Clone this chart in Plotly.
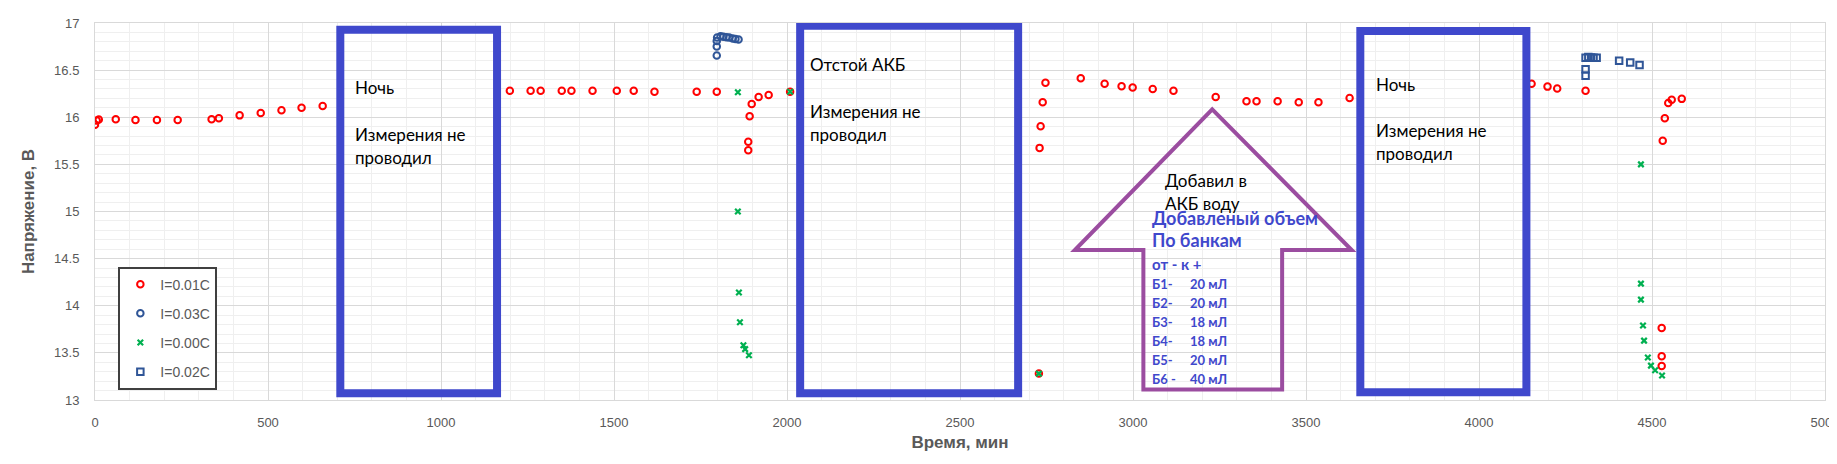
import plotly.graph_objects as go

# I=0.01C
time_001 = [0, 5, 11, 60, 117, 179, 239, 337, 358, 418, 479, 539, 597, 658,
            1199, 1259, 1288, 1349, 1377, 1438, 1508, 1557, 1617, 1739, 1797,
            1888, 1888, 1892, 1898, 1918, 1947, 2009,
            2728, 2730, 2733, 2739, 2747, 2849, 2918, 2967, 2999, 3057, 3117,
            3239, 3328, 3357, 3418, 3479, 3536, 3626,
            4152, 4198, 4226, 4308, 4528, 4528, 4528, 4531, 4537, 4547, 4557, 4586]
volt_001 = [15.92, 15.965, 15.975, 15.98, 15.97, 15.97, 15.97, 15.98, 15.99, 16.02, 16.045, 16.075, 16.10, 16.12,
            16.28, 16.28, 16.28, 16.28, 16.28, 16.28, 16.28, 16.28, 16.27, 16.27, 16.27,
            15.65, 15.74, 16.01, 16.14, 16.215, 16.235, 16.27,
            13.28, 15.675, 15.905, 16.16, 16.365, 16.415, 16.355, 16.33, 16.315, 16.30, 16.28,
            16.215, 16.17, 16.17, 16.17, 16.16, 16.16, 16.205,
            16.355, 16.325, 16.305, 16.28, 13.36, 13.465, 13.765, 15.75, 15.99, 16.15, 16.185, 16.195]

# I=0.03C
time_003 = [1797, 1797, 1797, 1798, 1808, 1816, 1825, 1833, 1843, 1851, 1860]
volt_003 = [16.655, 16.75, 16.81, 16.845, 16.86, 16.855, 16.85, 16.845, 16.835, 16.83, 16.825]

# I=0.00C
time_000 = [1858, 1858, 1861, 1864, 1874, 1879, 1890, 2009, 2728,
            4468, 4468, 4468, 4474, 4477, 4488, 4497, 4509, 4529]
volt_000 = [16.265, 15.0, 14.14, 13.825, 13.58, 13.54, 13.475, 16.27, 13.28,
            15.5, 14.235, 14.065, 13.79, 13.63, 13.45, 13.365, 13.315, 13.26]

# I=0.02C
time_002 = [4308, 4308, 4308, 4316, 4324, 4331, 4340, 4405, 4437, 4464]
volt_002 = [16.44, 16.51, 16.63, 16.64, 16.635, 16.63, 16.63, 16.60, 16.58, 16.555]

series_names = ["I=0.01C", "I=0.03C", "I=0.00C", "I=0.02C"]

note_night = ["Ночь", "", "Измерения не", "проводил"]
note_settle = ["Отстой АКБ", "", "Измерения не", "проводил"]
note_water = ["Добавил в", "АКБ воду"]
note_volume = ["Добавленый объем", "По банкам", "от - к +"]
cell_names = ["Б1-", "Б2-", "Б3-", "Б4-", "Б5-", "Б6 -"]
cell_volumes = ["20 мЛ", "20 мЛ", "18 мЛ", "18 мЛ", "20 мЛ", "40 мЛ"]

BOX_BLUE = "#3F48CC"
ARROW_PURPLE = "#9B4DA0"
TEXT_FONT = "Lato, Noto Sans, sans-serif"


# add_text(fig, x, y, text, size, color, bold)
#   puts one line of text on the chart, left aligned, in data coordinates.
def add_text(fig, x, y, text, size=17, color="black", bold=False):
    if bold:
        text = f"<b>{text}</b>"
    fig.add_annotation(x=x, y=y, xref="x", yref="y", text=text, showarrow=False,
                       xanchor="left", yanchor="middle",
                       font={"family": TEXT_FONT, "size": size, "color": color})


# add_lines(fig, x, y_list, lines)
#   writes several lines under each other.
def add_lines(fig, x, y_list, lines, size=17, color="black", bold=False):
    for y, line in zip(y_list, lines):
        if line:
            add_text(fig, x, y, line, size, color, bold)


fig = go.Figure()

fig.add_trace(go.Scatter(x=time_001, y=volt_001, mode="markers", name=series_names[0],
                         legendgroup="a",
                         marker={"symbol": "circle-open", "size": 6.5, "color": "#FF0000",
                                 "line": {"width": 2, "color": "#FF0000"}}))
fig.add_trace(go.Scatter(x=time_003, y=volt_003, mode="markers", name=series_names[1],
                         legendgroup="b",
                         marker={"symbol": "circle-open", "size": 6.5, "color": "#2F5597",
                                 "line": {"width": 2, "color": "#2F5597"}}))
fig.add_trace(go.Scatter(x=time_000, y=volt_000, mode="markers", name=series_names[2],
                         legendgroup="c",
                         marker={"symbol": "x-thin", "size": 5.5, "color": "#00B050",
                                 "line": {"width": 2.2, "color": "#00B050"}}))
fig.add_trace(go.Scatter(x=time_002, y=volt_002, mode="markers", name=series_names[3],
                         legendgroup="d",
                         marker={"symbol": "square-open", "size": 6.5, "color": "#2F5597",
                                 "line": {"width": 2, "color": "#2F5597"}}))

# blue frames over the gaps
for x0, x1, y0, y1 in [(709, 1162, 13.072, 16.929), (2038, 2668, 13.072, 16.971),
                       (3657, 4137, 13.083, 16.915)]:
    fig.add_shape(type="rect", x0=x0, x1=x1, y0=y0, y1=y1, xref="x", yref="y",
                  line={"color": BOX_BLUE, "width": 8}, fillcolor="rgba(0,0,0,0)")

# purple arrow
arrow_path = ("M 3229,16.083 L 3632,14.591 L 3431,14.591 L 3431,13.112 "
              "L 3030,13.112 L 3030,14.591 L 2832,14.591 Z")
fig.add_shape(type="path", path=arrow_path, xref="x", yref="y",
              line={"color": ARROW_PURPLE, "width": 4}, fillcolor="rgba(0,0,0,0)")

add_lines(fig, 746, [16.314, 16.066, 15.818, 15.571], note_night)
add_lines(fig, 2060, [16.561, 16.314, 16.066, 15.818], note_settle)
add_lines(fig, 3697, [16.349, 16.105, 15.86, 15.613], note_night)
add_lines(fig, 3088, [15.33, 15.08], note_water)
add_lines(fig, 3049, [14.935, 14.695], note_volume[:2], size=18, color=BOX_BLUE, bold=True)
add_text(fig, 3049, 14.446, note_volume[2], size=15, color=BOX_BLUE, bold=True)
cell_y = [14.234, 14.032, 13.831, 13.629, 13.427, 13.226]
add_lines(fig, 3049, cell_y, cell_names, size=13, color=BOX_BLUE, bold=True)
add_lines(fig, 3160, cell_y, cell_volumes, size=13, color=BOX_BLUE, bold=True)

axis_font = {"family": "Liberation Sans, Arial", "size": 13, "color": "#595959"}
title_font = {"family": "Liberation Sans, Arial", "size": 17, "color": "#595959"}

fig.update_xaxes(range=[0, 5000], dtick=500, tick0=0, showgrid=True, gridcolor="#D9D9D9",
                 minor={"dtick": 100, "showgrid": True, "gridcolor": "#EFEFEF"},
                 showline=True, linecolor="#D9D9D9", mirror=True, zeroline=False,
                 tickfont=axis_font, ticklabelstandoff=10,
                 title={"text": "<b>Время, мин</b>", "font": title_font, "standoff": 7})
fig.update_yaxes(range=[13, 17], dtick=0.5, tick0=13, showgrid=True, gridcolor="#D9D9D9",
                 minor={"dtick": 0.1, "showgrid": True, "gridcolor": "#EFEFEF"},
                 showline=True, linecolor="#D9D9D9", mirror=True, zeroline=False,
                 tickfont=axis_font, ticklabelstandoff=12,
                 title={"text": "<b>Напряжение, В</b>", "font": title_font, "standoff": 15})

fig.update_layout(width=1837, height=464, plot_bgcolor="white", paper_bgcolor="white",
                  margin={"l": 87, "r": 20, "t": 15, "b": 72, "autoexpand": False},
                  legend={"x": 0.0135, "y": 0.354, "xanchor": "left", "yanchor": "top",
                          "bgcolor": "white", "bordercolor": "#404040", "borderwidth": 2,
                          "font": {"family": "Liberation Sans, Arial", "size": 14, "color": "#595959"},
                          "tracegroupgap": 8, "traceorder": "grouped", "itemwidth": 30},
                  showlegend=True)

fig.write_html("out.html")
